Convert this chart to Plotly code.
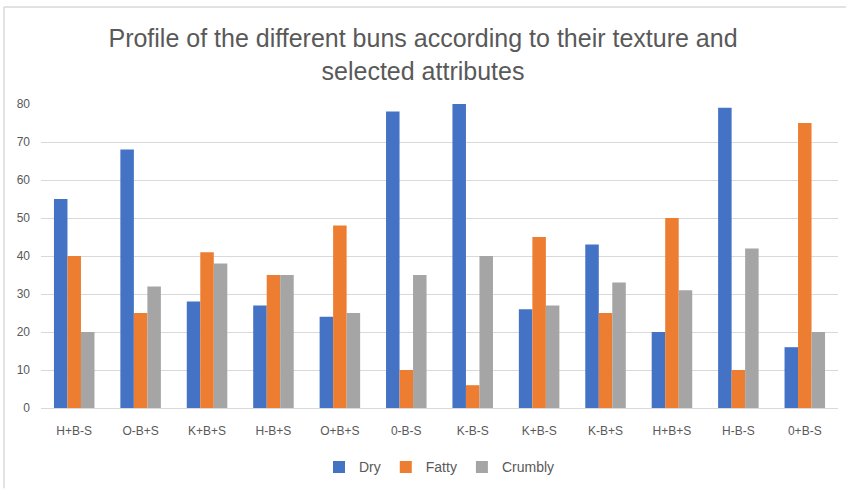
import plotly.graph_objects as go

# Bun samples and sensory scores per texture attribute
buns = ["H+B-S", "O-B+S", "K+B+S", "H-B+S", "O+B+S", "0-B-S",
        "K-B-S", "K+B-S", "K-B+S", "H+B+S", "H-B-S", "0+B-S"]
dry = [55, 68, 28, 27, 24, 78, 80, 26, 43, 20, 79, 16]
fatty = [40, 25, 41, 35, 48, 10, 6, 45, 25, 50, 10, 75]
crumbly = [20, 32, 38, 35, 25, 35, 40, 27, 33, 31, 42, 20]

series = [("Dry", dry, "#4472C4"), ("Fatty", fatty, "#ED7D31"), ("Crumbly", crumbly, "#A5A5A5")]

FONT = "Liberation Sans, Arial, sans-serif"
TXT = "#595959"

fig = go.Figure()
for name, vals, col in series:
    fig.add_trace(go.Bar(x=buns, y=vals, name=name, marker_color=col,
                         marker_line_width=0))

L, R, T, B = 41, 8, 104, 81
W, H = 846, 492
pw, ph = W - L - R, H - T - B

fig.update_layout(
    width=W, height=H,
    margin=dict(l=L, r=R, t=T, b=B),
    paper_bgcolor="white", plot_bgcolor="white",
    barmode="group", bargap=0.39, bargroupgap=0,
    font=dict(family=FONT, color=TXT, size=13),
    title=dict(text="Profile of the different buns according to their texture and<br>selected attributes",
               x=0.5, xanchor="center", y=1 - 47 / H, yanchor="middle",
               font=dict(family=FONT, size=25, color=TXT)),
    xaxis=dict(showgrid=False, showline=True, linecolor="#D9D9D9", linewidth=1,
               ticks="", ticklabelstandoff=12, tickfont=dict(size=12, color=TXT)),
    yaxis=dict(range=[0, 80], dtick=10, showgrid=True, gridcolor="#D9D9D9",
               gridwidth=1, zeroline=False, showline=False, ticks="",
               ticklabelstandoff=10, tickfont=dict(size=12, color=TXT)),
    legend=dict(orientation="h", x=0.5, xanchor="center", y=-(471 - 411) / ph,
                yanchor="middle", font=dict(size=14, color=TXT),
                itemwidth=30, traceorder="normal"),
    showlegend=True,
)

# Chart-area frame edges (top and left)
fig.add_shape(type="line", xref="paper", yref="paper",
              x0=(4 - L) / pw, x1=(W - L) / pw, y0=(411 - 6) / ph, y1=(411 - 6) / ph,
              line=dict(color="#D9D9D9", width=1.5))
fig.add_shape(type="line", xref="paper", yref="paper",
              x0=(4 - L) / pw, x1=(4 - L) / pw, y0=(411 - 6) / ph, y1=-(H - 411) / ph,
              line=dict(color="#D9D9D9", width=1.5))

fig.write_html("out.html")
